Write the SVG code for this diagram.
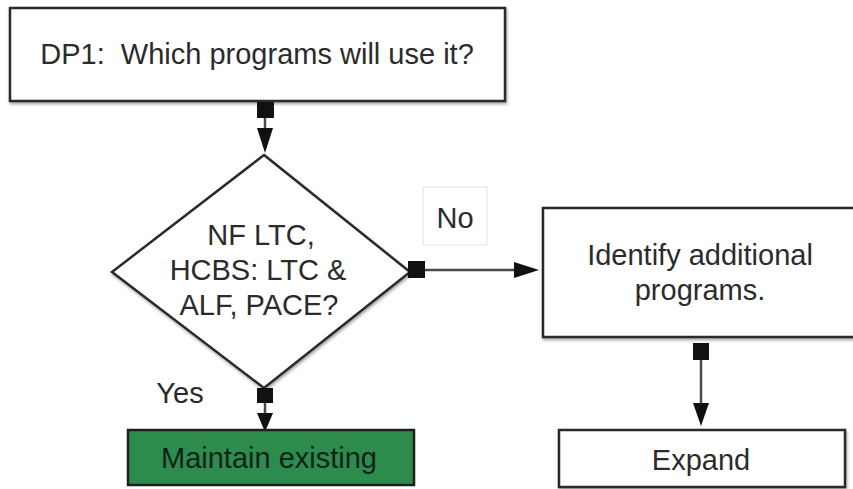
<svg xmlns="http://www.w3.org/2000/svg" width="853" height="489" viewBox="0 0 853 489">
<style>
.box{fill:#fff;stroke:#2a2a2a;stroke-width:2.5}
.t{font-family:"Liberation Sans",Arial,sans-serif;font-size:29px;fill:#2b2b2b;text-anchor:middle}
.ln{stroke:#4a4a4a;stroke-width:2.5;fill:none}
.sq{fill:#111}
</style>
<defs>
<filter id="sh" x="-5%" y="-5%" width="110%" height="120%">
<feDropShadow dx="1" dy="2" stdDeviation="1.5" flood-color="#000" flood-opacity="0.35"/>
</filter>
</defs>
<rect width="853" height="489" fill="#fff"/>
<g id="connectors">
<line class="ln" x1="265" y1="110" x2="265" y2="130"/>
<path d="M257,128 L273,128 L265,153 Z" fill="#111"/>
<line class="ln" x1="265" y1="395" x2="265" y2="415"/>
<path d="M257,413 L273,413 L265,432 Z" fill="#111"/>
<line class="ln" x1="416" y1="270" x2="518" y2="270"/>
<path d="M514,262 L539,270 L514,278 Z" fill="#111"/>
<line class="ln" x1="701" y1="352" x2="701" y2="406"/>
<path d="M693,403 L709,403 L701,426 Z" fill="#111"/>
</g>
<g id="dp1">
<rect class="box" x="10" y="8" width="495" height="93" filter="url(#sh)"/>
<text class="t" x="257" y="64" xml:space="preserve">DP1:  Which programs will use it?</text>
</g>
<g id="decision">
<polygon class="box" points="264,155 410,272 264,388 112,272" filter="url(#sh)"/>
<text class="t" x="261" y="245">NF LTC,</text>
<text class="t" x="258" y="280">HCBS: LTC &amp;</text>
<text class="t" x="259" y="315">ALF, PACE?</text>
</g>
<g id="no-label">
<rect x="423" y="187" width="64" height="58" fill="#fff" stroke="#e2e2e2" stroke-width="1"/>
<text class="t" x="455" y="228">No</text>
</g>
<g id="yes-label">
<text class="t" x="180" y="403">Yes</text>
</g>
<g id="identify">
<rect class="box" x="543" y="208" width="330" height="129" filter="url(#sh)"/>
<text class="t" x="700" y="265">Identify additional</text>
<text class="t" x="700" y="300">programs.</text>
</g>
<g id="maintain">
<rect x="128" y="430" width="286" height="55" fill="#2e8b4e" stroke="#1f1f1f" stroke-width="2.5"/>
<text class="t" x="269" y="468" style="fill:#0f2416">Maintain existing</text>
</g>
<g id="expand">
<rect class="box" x="559" y="430" width="286" height="57" filter="url(#sh)"/>
<text class="t" x="701" y="470">Expand</text>
</g>
<g id="ports">
<rect class="sq" x="257" y="102" width="17" height="16"/>
<rect class="sq" x="257" y="388" width="16" height="15"/>
<rect class="sq" x="408" y="261" width="17" height="17"/>
<rect class="sq" x="693" y="343" width="16" height="17"/>
</g>
</svg>
